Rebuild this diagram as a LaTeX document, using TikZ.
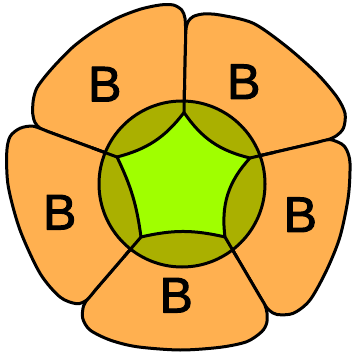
\documentclass[tikz,border=0pt]{standalone}
\usepackage{fontspec}
\setmainfont{Liberation Sans}
\newfontfamily\labelfont[FakeBold=2]{Liberation Sans}
\usetikzlibrary{calc}
\definecolor{petalc}{RGB}{255,176,80}
\definecolor{lensc}{RGB}{170,176,0}
\definecolor{corec}{RGB}{160,255,0}
\begin{document}
\begin{tikzpicture}[x=1pt,y=-1pt, line width=3pt, line join=round,
  petal/.style={fill=petalc, draw=black},
  lbl/.style={font=\labelfont\fontsize{50}{50}\selectfont, inner sep=0pt}]
\useasboundingbox (0,0) rectangle (354,355);
% centre and inner vertices
\coordinate (C) at (182,184);
\coordinate (Pt) at (184,112.5);
\coordinate (Pur) at (250,158);
\coordinate (Plr) at (225,237);
\coordinate (Pll) at (141,237);
\coordinate (Pul) at (117,157);
% outer ends of dividers
\coordinate (Dt) at (186,21);
\coordinate (Dur) at (334,138.5);
\coordinate (Dlr) at (267.5,309.5);
\coordinate (Dll) at (85,302);
\coordinate (Dul) at (34,126.5);
% petals
\filldraw[petal] (Pul) -- plot[smooth] coordinates {(48,131.6) (40,128.2) (35,122.5) (32.7,113.5) (33.3,100) (36.7,88.3) (45,76.7) (56.7,63.3) (73.3,46.7) (93.3,31.7) (116.7,18.3) (140,9.3) (160,5) (173.3,5) (181.7,10) (185,18.3) (185.7,35)} -- (Pt) -- cycle;
\filldraw[petal] (Pt) -- plot[smooth] coordinates {(185.7,35) (186.3,27) (188.5,21) (193.3,16.5) (203.3,14) (220,15) (253.3,23.3) (286.7,46.7) (316.7,73.3) (336.7,96.7) (345,113.3) (343.5,128) (336,136) (326,140.4) (318,142.2)} -- (Pur) -- cycle;
\filldraw[petal] (Pur) -- plot[smooth] coordinates {(318,142.2) (330,139.6) (341.7,144) (346.7,150) (350,163.3) (348.3,196.7) (340,236.7) (326.7,270) (310,300) (293.3,313.3) (277,314.5) (269.5,310.5) (264.9,305) (260.2,297)} -- (Plr) -- cycle;
\filldraw[petal] (Plr) -- plot[smooth] coordinates {(260.2,297) (264.9,305) (267,313) (266.7,323) (261.7,331.7) (246.7,341.7) (220,347.3) (180,350) (136.7,346.7) (110,340) (90,330) (82.7,318.3) (83.5,306) (88,298.5) (95,290.4)} -- (Pll) -- cycle;
\filldraw[petal] (Pll) -- plot[smooth] coordinates {(95,290.4) (86.7,300) (76.7,303.7) (60,297) (40,273.3) (20,230) (8.3,186.7) (6.7,153.3) (10,136.7) (20,128.3) (33,126.2) (48,131.6)} -- (Pul) -- cycle;
% disc and core
\filldraw[fill=lensc] (C) circle[radius=83pt];
\filldraw[fill=corec] (Pt) to[bend right=21] (Pur) to[bend right=25] (Plr)
  to[bend right=13] (Pll) to[bend right=9] (Pul) to[bend right=19] (Pt) -- cycle;
% dividers inside the disc
\foreach \p/\d in {Pt/Dt, Pur/Dur, Plr/Dlr, Pll/Dll, Pul/Dul}
  \draw (\p) -- ($(\p)!0.3!(\d)$);
% labels
\node[lbl] (b1) at (104.8,84.2) {B};
\node[lbl] (b2) at (243.8,81.7) {B};
\node[lbl] (b3) at (300.3,214.7) {B};
\node[lbl] (b4) at (176.2,295.3) {B};
\node[lbl] (b5) at (59.7,212.3) {B};
\end{tikzpicture}
\end{document}
